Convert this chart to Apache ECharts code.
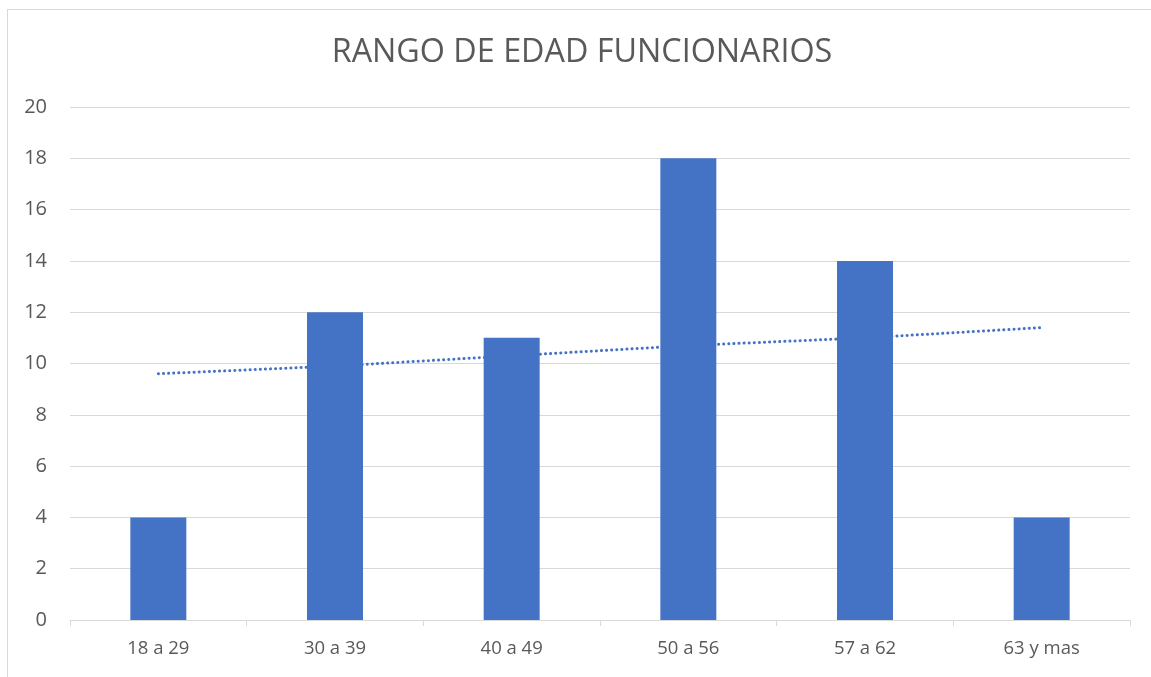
<!DOCTYPE html>
<html>
<head>
<meta charset="utf-8">
<script src="https://cdn.jsdelivr.net/npm/echarts@6/dist/echarts.min.js"></script>
<style>
html,body{margin:0;padding:0;background:#fff;}
#frame{position:absolute;left:7px;top:9px;width:1200px;height:700px;border:1px solid #d9d9d9;box-sizing:border-box;}
#chart{position:absolute;left:0;top:0;width:1151px;height:677px;}
</style>
</head>
<body>
<div id="frame"></div>
<div id="chart"></div>
<script>
const title = "RANGO DE EDAD FUNCIONARIOS";
const categories = ["18 a 29", "30 a 39", "40 a 49", "50 a 56", "57 a 62", "63 y mas"];
const values = [4, 12, 11, 18, 14, 4];
const trendValues = [9.6, 9.9, 10.3, 10.7, 11.0, 11.4];
const yTicks = {min: 0, max: 20, interval: 2};

const chart = echarts.init(document.getElementById('chart'), null, {renderer: 'canvas'});
const textColor = '#595959';
const fontFamily = '"Open Sans", "Noto Sans", sans-serif';
chart.setOption({
  animation: false,
  backgroundColor: 'transparent',
  title: {
    text: title, left: 582, textAlign: 'center', top: 37, padding: 0,
    textStyle: {color: textColor, fontSize: 32.3, fontWeight: 'normal', fontFamily: fontFamily}
  },
  grid: {left: 70, right: 21, top: 107, bottom: 57, containLabel: false},
  xAxis: {
    type: 'category', data: categories,
    axisLine: {show: true, lineStyle: {color: '#d9d9d9', width: 1}},
    axisTick: {show: true, length: 6, lineStyle: {color: '#d9d9d9'}},
    axisLabel: {color: textColor, fontSize: 18.5, margin: 19, fontFamily: fontFamily}
  },
  yAxis: {
    type: 'value', min: yTicks.min, max: yTicks.max, interval: yTicks.interval,
    axisLine: {show: false}, axisTick: {show: false},
    splitLine: {lineStyle: {color: '#d9d9d9', width: 1}},
    axisLabel: {color: textColor, fontSize: 20, margin: 23, fontFamily: fontFamily}
  },
  series: [
    {
      type: 'line', data: trendValues, z: 1,
      symbol: 'none', smooth: false,
      lineStyle: {color: '#4472C4', width: 3, type: [0.1, 5], cap: 'round'}
    },
    {
      type: 'bar', data: values, barWidth: 56, z: 2,
      itemStyle: {color: '#4472C4'}
    }
  ]
});
</script>
</body>
</html>
